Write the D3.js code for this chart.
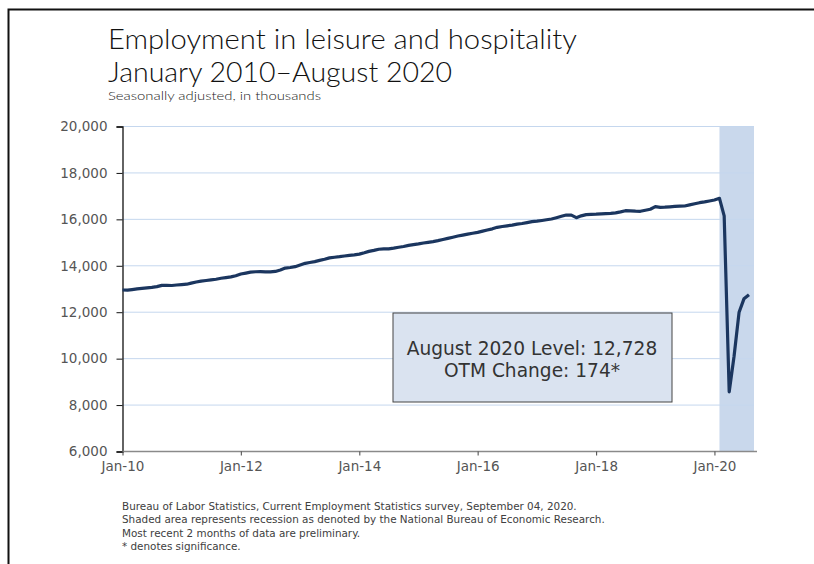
<!DOCTYPE html>
<html>
<head>
<meta charset="utf-8">
<script src="https://cdn.jsdelivr.net/npm/d3@7"></script>
<style>
  body { margin: 0; background: #fff; }
  .container { width: 814px; height: 564px; }
</style>
</head>
<body>
<div class="container"></div>
<script>
// employment in leisure and hospitality, thousands, one array per year (Jan..Dec)
const emp2010 = [12935, 12932, 12955, 12985, 13005, 13030, 13050, 13080, 13135, 13140, 13130, 13150];
const emp2011 = [13170, 13185, 13230, 13280, 13320, 13345, 13370, 13400, 13440, 13470, 13500, 13550];
const emp2012 = [13625, 13665, 13705, 13722, 13725, 13720, 13718, 13735, 13800, 13880, 13905, 13940];
const emp2013 = [14010, 14085, 14120, 14160, 14210, 14260, 14320, 14345, 14370, 14400, 14430, 14450];
const emp2014 = [14480, 14540, 14600, 14640, 14690, 14705, 14710, 14740, 14775, 14810, 14860, 14890];
const emp2015 = [14920, 14960, 14990, 15020, 15060, 15110, 15160, 15210, 15260, 15300, 15345, 15380];
const emp2016 = [15420, 15470, 15520, 15570, 15636, 15670, 15700, 15730, 15770, 15800, 15840, 15878];
const emp2017 = [15900, 15930, 15960, 15994, 16050, 16110, 16166, 16160, 16050, 16130, 16180, 16190];
const emp2018 = [16200, 16215, 16225, 16240, 16260, 16300, 16351, 16345, 16330, 16326, 16370, 16412];
const emp2019 = [16524, 16498, 16505, 16520, 16535, 16545, 16554, 16600, 16650, 16696, 16730, 16770];
const emp2020 = [16812, 16885, 16130, 8550, 10080, 11980, 12554, 12728];

const years = [2010, 2011, 2012, 2013, 2014, 2015, 2016, 2017, 2018, 2019, 2020];
const yearly = [emp2010, emp2011, emp2012, emp2013, emp2014, emp2015, emp2016, emp2017, emp2018, emp2019, emp2020];

const xTickLabels = ["Jan-10", "Jan-12", "Jan-14", "Jan-16", "Jan-18", "Jan-20"];
const yTicks = [6000, 8000, 10000, 12000, 14000, 16000, 18000, 20000];

const recession = ["2020-02", "2020-09"];

const titleLines = ["Employment in leisure and hospitality", "January 2010\u2013August 2020"];
const subtitle = "Seasonally adjusted, in thousands";
const boxLines = ["August 2020 Level: 12,728", "OTM Change: 174*"];
const notes = [
  "Bureau of Labor Statistics, Current Employment Statistics survey, September 04, 2020.",
  "Shaded area represents recession as denoted by the National Bureau of Economic Research.",
  "Most recent 2 months of data are preliminary.",
  "* denotes significance."
];

function draw() {
  const parseMonth = d3.timeParse("%Y-%m");
  const parseTick = d3.timeParse("%b-%y");

  let data = [];
  years.forEach((yr, i) => {
    yearly[i].forEach((v, m) => data.push({date: new Date(yr, m, 1), value: v}));
  });

  const width = 814, height = 564;
  let svg = d3.select(".container").append("svg")
    .attr("width", width)
    .attr("height", height)
    .style("background", "#fff");

  // frame at top-left
  svg.append("path")
    .attr("d", "M8.5,564 V9.5 H814")
    .attr("fill", "none")
    .attr("stroke", "#111")
    .attr("stroke-width", 2);

  const x = d3.scaleTime()
    .domain([new Date(2010, 0, 1), new Date(2020, 8, 1)])
    .range([122.5, 754]);
  const y = d3.scaleLinear()
    .domain([6000, 20000])
    .range([451, 126]);

  // titles (widths stretched to the reference)
  const titleWidths = [469, 344];
  svg.selectAll("text.title")
    .data(titleLines)
    .enter()
    .append("text")
    .attr("class", "title")
    .attr("x", 108)
    .attr("y", (d, i) => 48.5 + i * 33.5)
    .attr("font-family", "Lato, 'Open Sans', sans-serif")
    .attr("font-weight", 300)
    .attr("font-size", 27)
    .attr("fill", "#111")
    .attr("textLength", (d, i) => titleWidths[i])
    .attr("lengthAdjust", "spacingAndGlyphs")
    .text(d => d);

  svg.append("text")
    .attr("x", 108)
    .attr("y", 100)
    .attr("font-family", "Lato, 'Open Sans', sans-serif")
    .attr("font-weight", 300)
    .attr("font-size", 12.5)
    .attr("fill", "#222")
    .attr("textLength", 213)
    .attr("lengthAdjust", "spacingAndGlyphs")
    .text(subtitle);

  // recession shading
  svg.append("rect")
    .attr("x", x(parseMonth(recession[0])))
    .attr("y", y(20000))
    .attr("width", x(parseMonth(recession[1])) - x(parseMonth(recession[0])))
    .attr("height", y(6000) - y(20000))
    .attr("fill", "#c9d8ec");

  // gridlines
  svg.append("g")
    .selectAll("line")
    .data(yTicks.slice(1))
    .enter()
    .append("line")
    .attr("x1", x.range()[0])
    .attr("x2", x.range()[1])
    .attr("y1", d => y(d) + 0.5)
    .attr("y2", d => y(d) + 0.5)
    .attr("stroke", "#c5d7ee")
    .attr("stroke-width", 1);

  // y axis
  let yAxis = svg.append("g")
    .attr("transform", `translate(${x.range()[0]},0.5)`)
    .call(d3.axisLeft(y).tickValues(yTicks).tickSize(6).tickPadding(9).tickFormat(d3.format(",")));
  yAxis.select(".domain").attr("stroke", "#111").attr("stroke-width", 1.3);
  yAxis.selectAll(".tick line").attr("stroke", "#111");
  yAxis.selectAll("text")
    .attr("font-family", "'DejaVu Sans', sans-serif")
    .attr("font-size", 13.5)
    .attr("fill", "#555");

  // x axis
  let xAxis = svg.append("g")
    .attr("transform", `translate(0,${y(6000) + 0.5})`)
    .call(d3.axisBottom(x)
      .tickValues(xTickLabels.map(parseTick))
      .tickSize(4)
      .tickSizeOuter(0)
      .tickPadding(6)
      .tickFormat(d3.timeFormat("%b-%y")));
  xAxis.select(".domain").attr("stroke", "#8a8a8a").attr("stroke-width", 1.6)
    .attr("d", `M${x.range()[0]},0H757`);
  xAxis.selectAll(".tick line").attr("stroke", "#444");
  xAxis.selectAll("text")
    .attr("font-family", "'DejaVu Sans', sans-serif")
    .attr("font-size", 13.5)
    .attr("fill", "#555");

  // series line
  const line = d3.line()
    .x(d => x(d.date))
    .y(d => y(d.value));
  svg.append("path")
    .datum(data)
    .attr("d", line)
    .attr("fill", "none")
    .attr("stroke", "#1b365f")
    .attr("stroke-width", 3.2)
    .attr("stroke-linejoin", "round");

  // annotation box
  let box = svg.append("g");
  box.append("rect")
    .attr("x", 393)
    .attr("y", 313)
    .attr("width", 279)
    .attr("height", 89)
    .attr("fill", "#dae3f0")
    .attr("stroke", "#444")
    .attr("stroke-width", 1);
  box.selectAll("text")
    .data(boxLines)
    .enter()
    .append("text")
    .attr("x", 532)
    .attr("y", (d, i) => 354.5 + i * 22)
    .attr("text-anchor", "middle")
    .attr("font-family", "'DejaVu Sans', sans-serif")
    .attr("font-size", 18.6)
    .attr("fill", "#333")
    .text(d => d);

  // notes
  svg.selectAll("text.note")
    .data(notes)
    .enter()
    .append("text")
    .attr("class", "note")
    .attr("x", 122)
    .attr("y", (d, i) => 510 + i * 13.3)
    .attr("font-family", "'DejaVu Sans', sans-serif")
    .attr("font-size", 10.4)
    .attr("fill", "#404040")
    .text(d => d);
}

draw();
</script>
</body>
</html>
